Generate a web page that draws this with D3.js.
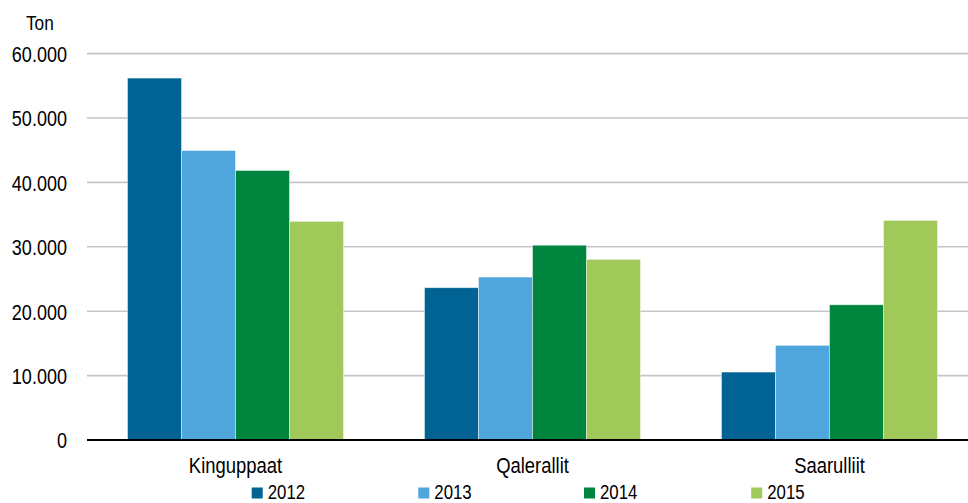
<!DOCTYPE html>
<html>
<head>
<meta charset="utf-8">
<script src="https://cdn.jsdelivr.net/npm/d3@7"></script>
<style>
  html, body { margin: 0; padding: 0; background: #fff; }
  svg { display: block; }
  text { font-family: "Liberation Sans", Arial, sans-serif; fill: #000; }
</style>
</head>
<body>
<svg id="chart" width="968" height="503"></svg>
<script>
const categories = ["Kinguppaat", "Qalerallit", "Saarulliit"];
const years = ["2012", "2013", "2014", "2015"];
const values2012 = [56200, 23650, 10550];
const values2013 = [44950, 25300, 14700];
const values2014 = [41850, 30250, 21000];
const values2015 = [33950, 28050, 34100];
const yTicks = [0, 10000, 20000, 30000, 40000, 50000, 60000];
const yTickLabels = ["0", "10.000", "20.000", "30.000", "40.000", "50.000", "60.000"];
const unitLabel = "Ton";
const colors = ["#006394", "#4ea6dc", "#00853f", "#a1c95a"];

const series = [values2012, values2013, values2014, values2015];
const NARROW = 0.82; // emulate a narrow typeface

const svg = d3.select("#chart");
const W = 968, H = 503;
const m = { left: 87, right: 978, top: 53.6, bottom: 440 };

const x0 = d3.scaleBand().domain(categories).range([m.left, m.right])
  .paddingInner(0.2727).paddingOuter(0.1364);
const x1 = d3.scaleBand().domain(years).range([0, x0.bandwidth()]).padding(0);
const y = d3.scaleLinear().domain([0, 60000]).range([m.bottom, m.top]);

// gridlines
svg.append("g").selectAll("line").data(yTicks.filter(d => d > 0)).join("line")
  .attr("x1", m.left).attr("x2", W)
  .attr("y1", d => y(d)).attr("y2", d => y(d))
  .attr("stroke", "#c5c4cc").attr("stroke-width", 1.6);

// y axis labels
const yAxis = d3.axisLeft(y).tickValues(yTicks)
  .tickFormat((d, i) => yTickLabels[i]).tickSize(0).tickPadding(0);
const ga = svg.append("g").attr("transform", `translate(67,0)`).call(yAxis);
ga.select(".domain").remove();
ga.selectAll("text").attr("font-size", 22).attr("x", 0).attr("dy", "0.36em")
  .attr("transform", `scale(${NARROW},1)`)
  .style("font-family", '"Liberation Sans", Arial, sans-serif');

// unit label
svg.append("text").attr("transform", `translate(26,30) scale(${NARROW},1)`)
  .attr("font-size", 21).text(unitLabel);

// bars
const groups = svg.append("g").selectAll("g").data(categories).join("g")
  .attr("transform", d => `translate(${x0(d)},0)`);
groups.selectAll("rect").data((c, ci) => years.map((yr, si) => ({ yr, si, v: series[si][ci] })))
  .join("rect")
  .attr("x", d => x1(d.yr))
  .attr("width", x1.bandwidth())
  .attr("y", d => y(d.v))
  .attr("height", d => y(0) - y(d.v))
  .attr("fill", d => colors[d.si])
  .attr("stroke", "rgba(255,255,255,0.55)")
  .attr("stroke-width", 0.8);

// x axis
const xAxis = d3.axisBottom(x0).tickSize(0).tickPadding(0);
const gx = svg.append("g").attr("transform", `translate(0,${m.bottom})`).call(xAxis);
gx.select(".domain").remove();
svg.append("line").attr("x1", m.left).attr("x2", W).attr("y1", m.bottom).attr("y2", m.bottom)
  .attr("stroke", "#000").attr("stroke-width", 2.2);
gx.selectAll("text").attr("font-size", 22.5).attr("dy", 0).attr("y", 33)
  .attr("transform", `scale(${NARROW},1)`)
  .style("font-family", '"Liberation Sans", Arial, sans-serif');

// legend
const legendX = [251.7, 418.3, 584, 751.2];
const lg = svg.append("g").selectAll("g").data(years).join("g")
  .attr("transform", (d, i) => `translate(${legendX[i]},0)`);
lg.append("rect").attr("x", 0).attr("y", 487.5).attr("width", 11).attr("height", 11)
  .attr("fill", (d, i) => colors[i]);
lg.append("text").attr("transform", `translate(16,498.5) scale(${NARROW},1)`)
  .attr("font-size", 20.5).text(d => d);
</script>
</body>
</html>
